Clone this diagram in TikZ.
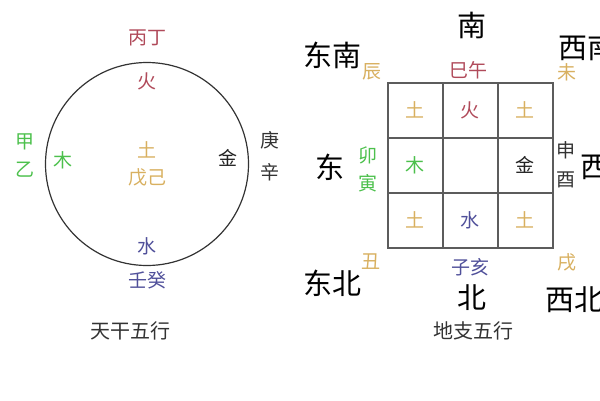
\documentclass[tikz,border=0pt]{standalone}
\usepackage{fontspec}
\newfontfamily\cjk{Noto Sans CJK SC}
\definecolor{fire}{HTML}{B04A5A}
\definecolor{wood}{HTML}{4CC04C}
\definecolor{earth}{HTML}{D8B060}
\definecolor{water}{HTML}{50509A}
\definecolor{metal}{HTML}{222222}
\definecolor{ink}{HTML}{333333}
\tikzset{
  lbl/.style={inner sep=0pt, font=\cjk\fontsize{19}{19}\selectfont},
  big/.style={inner sep=0pt, font=\cjk\fontsize{29}{29}\selectfont, text=black},
  captext/.style={inner sep=0pt, font=\cjk\fontsize{20}{20}\selectfont, text=ink},
  ring/.style={draw=ink, line width=1.2pt},
  gridline/.style={draw=ink!80, line width=1.5pt}
}
\begin{document}
\begin{tikzpicture}[x=1pt,y=-1pt]
\useasboundingbox (0,0) rectangle (600,400);
\clip (0,0) rectangle (600,400);
% Left: heavenly stems
\node[ring, circle, minimum size=203pt, inner sep=0pt] (circ) at (147,164) {};
\node[lbl, text=fire] (bingding) at (147,38) {丙丁};
\node[lbl, text=fire] (huo) at (147,81) {火};
\node[lbl, text=wood] (jia) at (25,142) {甲};
\node[lbl, text=wood] (yi) at (25,170) {乙};
\node[lbl, text=wood] (mu) at (63,160) {木};
\node[lbl, text=earth] (tu) at (147,150) {土};
\node[lbl, text=earth] (wuji) at (147,177) {戊己};
\node[lbl, text=metal] (jin) at (228,158) {金};
\node[lbl, text=ink] (geng) at (270,140) {庚};
\node[lbl, text=ink] (xin) at (270,172) {辛};
\node[lbl, text=water] (shui) at (147,246) {水};
\node[lbl, text=water] (rengui) at (147,280) {壬癸};
\node[captext] (tiangan) at (130,331) {天干五行};
% Right: earthly branches
\draw[gridline] (388,83) rectangle (553,248);
\draw[gridline] (443,83) -- (443,248);
\draw[gridline] (498,83) -- (498,248);
\draw[gridline] (388,138) -- (553,138);
\draw[gridline] (388,193) -- (553,193);
\node[lbl, text=earth] (c11) at (415,110) {土};
\node[lbl, text=fire] (c12) at (470,110) {火};
\node[lbl, text=earth] (c13) at (525,110) {土};
\node[lbl, text=wood] (c21) at (415,165) {木};
\node[lbl, text=metal] (c23) at (525,165) {金};
\node[lbl, text=earth] (c31) at (415,220) {土};
\node[lbl, text=water] (c32) at (470,220) {水};
\node[lbl, text=earth] (c33) at (525,220) {土};
\node[big] (nan) at (472,25) {南};
\node[big] (dongnan) at (332,55) {东南};
\node[big, anchor=west] (xinan) at (558,47) {西南};
\node[big] (dong) at (330,167) {东};
\node[big, anchor=west] (xi) at (580,167) {西};
\node[big] (dongbei) at (332,283) {东北};
\node[big] (bei) at (472,298) {北};
\node[big, anchor=west] (xibei) at (545,300) {西北};
\node[lbl, text=earth] (chen) at (372,72) {辰};
\node[lbl, text=fire] (siwu) at (468,70) {巳午};
\node[lbl, text=earth] (wei) at (567,72) {未};
\node[lbl, text=wood] (mao) at (368,155) {卯};
\node[lbl, text=wood] (yin) at (368,183) {寅};
\node[lbl, text=ink] (shen) at (566,150) {申};
\node[lbl, text=ink] (you) at (566,180) {酉};
\node[lbl, text=earth] (chou) at (371,262) {丑};
\node[lbl, text=water] (zihai) at (470,267) {子亥};
\node[lbl, text=earth] (xu) at (567,262) {戌};
\node[captext] (dizhi) at (473,331) {地支五行};
\end{tikzpicture}
\end{document}
